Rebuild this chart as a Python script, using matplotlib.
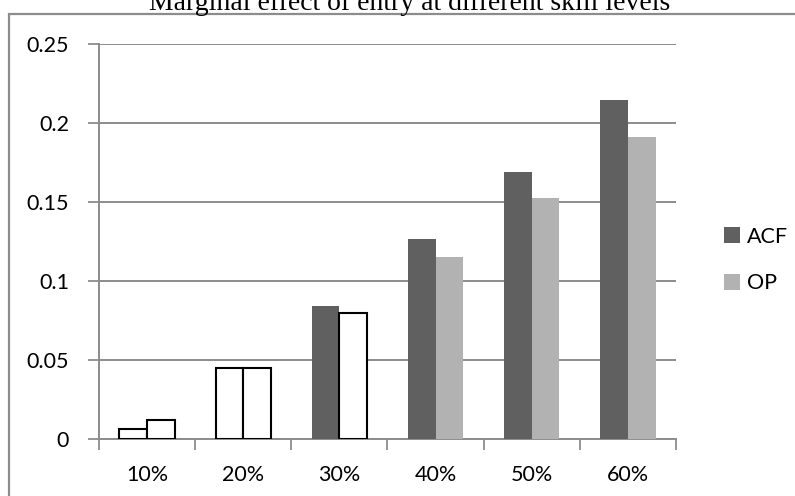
import matplotlib
matplotlib.use('Agg')
import matplotlib.pyplot as plt
from matplotlib.patches import Rectangle
import numpy as np

# data
categories = ['10%', '20%', '30%', '40%', '50%', '60%']
acf = [0.0061, 0.0449, 0.0844, 0.1264, 0.1692, 0.2146]
op = [0.0120, 0.0449, 0.0800, 0.1152, 0.1527, 0.1913]
# bars drawn solid when the estimate is significant, hollow otherwise
acf_sig = [False, False, True, True, True, True]
op_sig = [False, False, False, True, True, True]
yticks = [0, 0.05, 0.1, 0.15, 0.2, 0.25]
ytick_labels = ['0', '0.05', '0.1', '0.15', '0.2', '0.25']

ACF_COL = '#606060'
OP_COL = '#b2b2b2'
GRID_COL = '#8c8c8c'

plt.rcParams['font.family'] = ['Lato', 'DejaVu Sans']

fig = plt.figure(figsize=(7.95, 4.96), dpi=100)
ax = fig.add_axes([99 / 795, 57 / 496, 577 / 795, 395 / 496])

x = np.arange(len(categories))
w = 0.287

def draw(vals, sig, offset, col, label):
    for i, (v, s) in enumerate(zip(vals, sig)):
        if s:
            ax.bar(x[i] + offset, v, w, color=col, edgecolor='none', zorder=3)
        else:
            ax.bar(x[i] + offset, v, w, facecolor='white', edgecolor='black',
                   linewidth=1.5, zorder=3)
    # legend proxy
    ax.bar([0], [0], 0, color=col, label=label)

draw(acf, acf_sig, -w / 2, ACF_COL, 'ACF')
draw(op, op_sig, w / 2, OP_COL, 'OP')

ax.set_xlim(-0.5, len(categories) - 0.5)
ax.set_ylim(0, 0.25)
ax.set_yticks(yticks)
ax.set_yticklabels(ytick_labels)
ax.set_xticks(x)
ax.set_xticklabels(categories)
ax.set_xticks(np.arange(-0.5, len(categories), 1.0), minor=True)
ax.tick_params(axis='x', which='major', length=0, pad=19, labelsize=15.5)
ax.tick_params(axis='x', which='minor', length=8, width=1.3, color=GRID_COL)
ax.tick_params(axis='y', length=8, width=1.3, color=GRID_COL, pad=13.5, labelsize=15.5)

ax.yaxis.grid(True, color=GRID_COL, linewidth=1.4, zorder=0)
ax.set_axisbelow(True)
for s in ['top', 'right']:
    ax.spines[s].set_visible(False)
for s in ['left', 'bottom']:
    ax.spines[s].set_color(GRID_COL)
    ax.spines[s].set_linewidth(1.4)

leg = ax.legend(loc='center left', bbox_to_anchor=(705 / 795, (496 - 260) / 496),
                bbox_transform=fig.transFigure, frameon=False, fontsize=15.5,
                handlelength=0.72, handleheight=0.72, handletextpad=0.35,
                labelspacing=1.25)

# outer chart border (runs off the right and bottom edges like the reference)
fig.patches.append(Rectangle((9 / 795, -0.1), 1.2, (496 - 14) / 496 + 0.1,
                             transform=fig.transFigure, fill=False,
                             edgecolor=GRID_COL, linewidth=1.6))

fig.text(410 / 795, (496 - 10) / 496,
         'Marginal effect of entry at different skill levels',
         ha='center', va='baseline', fontsize=20,
         family=['Liberation Serif', 'DejaVu Serif'])

fig.savefig('out.png', dpi=100)
